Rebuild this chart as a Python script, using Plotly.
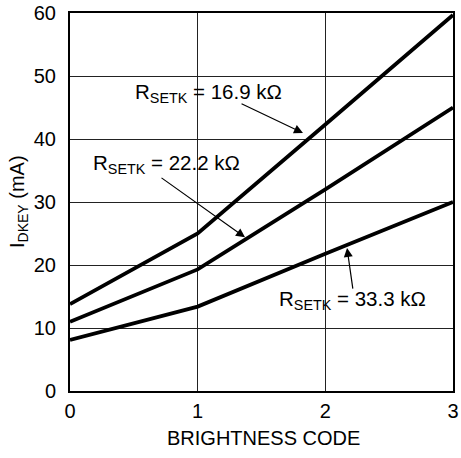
import plotly.graph_objects as go

codes = [0, 1, 2, 3]
r_16_9 = [13.8, 25.0, 42.3, 59.7]
r_22_2 = [11.0, 19.3, 32.0, 45.0]
r_33_3 = [8.1, 13.4, 21.8, 30.0]
x_ticks = [0, 1, 2, 3]
y_ticks = [0, 10, 20, 30, 40, 50, 60]

labels = ["R<sub>SETK</sub> = 16.9 kΩ", "R<sub>SETK</sub> = 22.2 kΩ", "R<sub>SETK</sub> = 33.3 kΩ"]
label_pos = [(1.081, 47.3), (0.752, 36.1), (2.209, 14.4)]
arrow_heads = [(1.825, 40.95), (1.371, 24.4), (2.170, 22.7)]
arrow_tails = [(1.332, 45.7), (0.705, 34.0), (2.217, 16.0)]

FONT = "Liberation Sans, Arial, sans-serif"

fig = go.Figure()
for ys in (r_16_9, r_22_2, r_33_3):
    fig.add_trace(go.Scatter(x=codes, y=ys, mode="lines",
                             line=dict(color="black", width=3.8),
                             showlegend=False, hoverinfo="skip"))

annotations = []
for txt, (tx, ty) in zip(labels, label_pos):
    annotations.append(dict(x=tx, y=ty, xref="x", yref="y", text=txt, showarrow=False,
                            font=dict(family=FONT, size=20.5, color="black"),
                            xanchor="center", yanchor="middle"))
for (hx, hy), (tx, ty) in zip(arrow_heads, arrow_tails):
    annotations.append(dict(x=hx, y=hy, ax=tx, ay=ty, xref="x", yref="y",
                            axref="x", ayref="y", text="", showarrow=True,
                            arrowhead=2, arrowsize=1.5, arrowwidth=1.2,
                            arrowcolor="black", standoff=0))
annotations.append(dict(x=0.504, y=0, xref="paper", yref="paper", yshift=-47,
                        text="BRIGHTNESS CODE", showarrow=False,
                        font=dict(family=FONT, size=20, color="black"),
                        xanchor="center", yanchor="middle"))
annotations.append(dict(x=0, y=0.5, xref="paper", yref="paper", xshift=-52,
                        text="I<sub>DKEY</sub> (mA)", showarrow=False, textangle=-90,
                        font=dict(family=FONT, size=20, color="black"),
                        xanchor="center", yanchor="middle"))

fig.update_layout(
    width=461, height=458,
    margin=dict(l=70, r=8, t=13, b=67, autoexpand=False),
    paper_bgcolor="white", plot_bgcolor="white",
    font=dict(family=FONT, size=20, color="black"),
    annotations=annotations,
    xaxis=dict(range=[0, 3], tickvals=x_ticks, showgrid=True, gridcolor="#222222", gridwidth=1.2,
               zeroline=False, showline=True, linecolor="black", linewidth=2, mirror=True,
               ticks="", tickfont=dict(size=20), automargin=False, ticklabelstandoff=1),
    yaxis=dict(range=[0, 60], tickvals=y_ticks, showgrid=True, gridcolor="#222222", gridwidth=1.2,
               zeroline=False, showline=True, linecolor="black", linewidth=2, mirror=True,
               ticks="", tickfont=dict(size=20), automargin=False, ticklabelstandoff=8),
)

fig.write_html("out.html", config={"displayModeBar": False},
               post_script="document.body.style.margin='0';document.body.style.overflow='hidden';")
